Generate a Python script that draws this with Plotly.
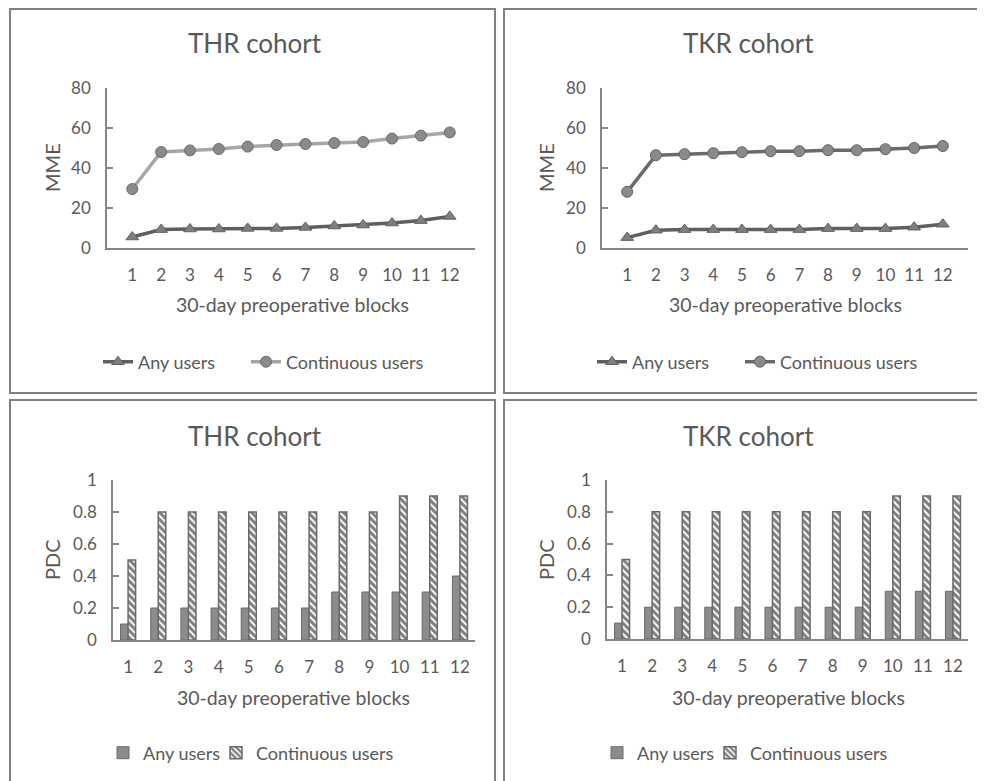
import plotly.graph_objects as go

W, H = 985, 781
OFF = 8  # page body margin offset

blocks = [str(i) for i in range(1, 13)]

thr_mme_any = [5.5, 9.2, 9.5, 9.5, 9.8, 9.8, 10.3, 11.0, 11.5, 12.5, 13.7, 15.8]
thr_mme_cont = [29.5, 48.0, 48.8, 49.5, 50.7, 51.5, 52.0, 52.5, 53.0, 54.7, 56.2, 57.8]
tkr_mme_any = [5.2, 8.9, 9.2, 9.2, 9.2, 9.2, 9.2, 9.7, 9.7, 9.7, 10.4, 11.9]
tkr_mme_cont = [28.1, 46.4, 46.9, 47.4, 47.9, 48.4, 48.4, 48.9, 48.9, 49.4, 50.0, 51.0]

thr_pdc_any = [0.1, 0.2, 0.2, 0.2, 0.2, 0.2, 0.2, 0.3, 0.3, 0.3, 0.3, 0.4]
thr_pdc_cont = [0.5, 0.8, 0.8, 0.8, 0.8, 0.8, 0.8, 0.8, 0.8, 0.9, 0.9, 0.9]
tkr_pdc_any = [0.1, 0.2, 0.2, 0.2, 0.2, 0.2, 0.2, 0.2, 0.2, 0.3, 0.3, 0.3]
tkr_pdc_cont = [0.5, 0.8, 0.8, 0.8, 0.8, 0.8, 0.8, 0.8, 0.8, 0.9, 0.9, 0.9]

mme_ticks = [0, 20, 40, 60, 80]
pdc_ticks = [0, 0.2, 0.4, 0.6, 0.8, 1]
pdc_tick_text = ["0", "0.2", "0.4", "0.6", "0.8", "1"]

titles = ["THR cohort", "TKR cohort", "THR cohort", "TKR cohort"]
xtitle = "30-day preoperative blocks"

FONT = "Lato, 'Open Sans', sans-serif"
TXT = "#595959"
AX = "#868686"

def px(x):
    return (x - OFF) / W

def py(y):
    return 1 - (y - OFF) / H

fig = go.Figure()

any_line = dict(color="#5f5f5f", width=3.5)
any_marker = dict(symbol="triangle-up", size=11, color="#7f7f7f", line=dict(color="#5f5f5f", width=1))

fig.add_trace(go.Scatter(x=blocks, y=thr_mme_any, name="Any users", mode="lines+markers",
                         line=any_line, marker=any_marker, xaxis="x", yaxis="y", legend="legend"))
fig.add_trace(go.Scatter(x=blocks, y=thr_mme_cont, name="Continuous users", mode="lines+markers",
                         line=dict(color="#a6a6a6", width=3.5),
                         marker=dict(symbol="circle", size=11, color="#8a8a8a", line=dict(color="#6a6a6a", width=1)),
                         xaxis="x", yaxis="y", legend="legend2"))

fig.add_trace(go.Scatter(x=blocks, y=tkr_mme_any, name="Any users", mode="lines+markers",
                         line=any_line, marker=any_marker, xaxis="x2", yaxis="y2", legend="legend3"))
fig.add_trace(go.Scatter(x=blocks, y=tkr_mme_cont, name="Continuous users", mode="lines+markers",
                         line=dict(color="#6a6a6a", width=3.5),
                         marker=dict(symbol="circle", size=11, color="#8a8a8a", line=dict(color="#606060", width=1)),
                         xaxis="x2", yaxis="y2", legend="legend4"))

bar_any = dict(color="#8c8c8c", line=dict(color="#6a6a6a", width=1))
bar_cont = dict(color="white", line=dict(color="#6a6a6a", width=1.5),
                pattern=dict(shape="\\", fgcolor="#000000", bgcolor="white", size=5, solidity=0.6))

fig.add_trace(go.Bar(x=blocks, y=thr_pdc_any, name="Any users", marker=bar_any,
                     xaxis="x3", yaxis="y3", legend="legend5"))
fig.add_trace(go.Bar(x=blocks, y=thr_pdc_cont, name="Continuous users", marker=bar_cont,
                     xaxis="x3", yaxis="y3", legend="legend6"))
fig.add_trace(go.Bar(x=blocks, y=tkr_pdc_any, name="Any users", marker=bar_any,
                     xaxis="x4", yaxis="y4", legend="legend7"))
fig.add_trace(go.Bar(x=blocks, y=tkr_pdc_cont, name="Continuous users", marker=bar_cont,
                     xaxis="x4", yaxis="y4", legend="legend8"))

tickfont = dict(family=FONT, size=17, color=TXT)

def xaxis(domain, anchor):
    return dict(domain=domain, anchor=anchor, type="category", showgrid=False, showline=True,
                linecolor=AX, linewidth=1.5, ticks="", tickfont=tickfont, ticklabelstandoff=11,
                zeroline=False, fixedrange=True, automargin=False)

def yaxis(domain, anchor, rng, tv, tt=None):
    d = dict(domain=domain, anchor=anchor, range=rng, tickvals=tv, showgrid=False, showline=True,
             linecolor=AX, linewidth=1.5, ticks="inside", ticklen=6, tickcolor=AX, tickwidth=1.5,
             tickfont=tickfont, ticklabelstandoff=11, zeroline=False, fixedrange=True, automargin=False)
    if tt is not None:
        d["ticktext"] = tt
    return d

top_y = [py(248), py(88)]
bot_y = [py(640), py(480)]

fig.update_layout(
    width=W, height=H,
    margin=dict(l=0, r=0, t=0, b=0, pad=0, autoexpand=False),
    paper_bgcolor="white", plot_bgcolor="white",
    font=dict(family=FONT, color=TXT),
    barmode="group", bargap=0.5, bargroupgap=0,
    xaxis=xaxis([px(107), px(475)], "y"),
    yaxis=yaxis(top_y, "x", [0, 80], mme_ticks),
    xaxis2=xaxis([px(602), px(968)], "y2"),
    yaxis2=yaxis(top_y, "x2", [0, 80], mme_ticks),
    xaxis3=xaxis([px(113), px(475)], "y3"),
    yaxis3=yaxis(bot_y, "x3", [0, 1], pdc_ticks, pdc_tick_text),
    xaxis4=xaxis([px(607), px(968)], "y4"),
    yaxis4=yaxis([py(639), py(480)], "x4", [0, 1], pdc_ticks, pdc_tick_text),
    showlegend=True,
)

leg_line = dict(orientation="h", xanchor="left", yanchor="middle",
                font=dict(family=FONT, size=18, color=TXT), bgcolor="rgba(0,0,0,0)",
                itemclick=False, itemdoubleclick=False)
leg_bar = dict(orientation="h", xanchor="left", yanchor="middle",
               font=dict(family=FONT, size=18, color=TXT), bgcolor="rgba(0,0,0,0)",
               itemclick=False, itemdoubleclick=False, itemwidth=30)
fig.update_layout(
    legend=dict(x=px(98), y=py(362), **leg_line),
    legend2=dict(x=px(246), y=py(362), **leg_line),
    legend3=dict(x=px(592), y=py(362), **leg_line),
    legend4=dict(x=px(740), y=py(362), **leg_line),
    legend5=dict(x=px(103), y=py(753), **leg_bar),
    legend6=dict(x=px(216), y=py(753), **leg_bar),
    legend7=dict(x=px(597), y=py(753), **leg_bar),
    legend8=dict(x=px(710), y=py(753), **leg_bar),
)

frames = [(10, 9, 495, 393), (504, 9, 1000, 393), (10, 400, 495, 800), (504, 400, 1000, 800)]
for (x0, y0, x1, y1) in frames:
    fig.add_shape(type="rect", xref="paper", yref="paper", x0=px(x0), x1=px(x1), y0=py(y1), y1=py(y0),
                  line=dict(color="#7f7f7f", width=2), fillcolor="rgba(0,0,0,0)", layer="below")

title_pos = [(255, 43), (748, 43), (255, 436), (748, 436)]
for t, (x, y) in zip(titles, title_pos):
    fig.add_annotation(text=t, x=px(x), y=py(y), xref="paper", yref="paper", showarrow=False,
                       xanchor="center", yanchor="middle", font=dict(family=FONT, size=26, color=TXT))

xt_pos = [(292, 305), (785, 305), (293, 697), (788, 697)]
for (x, y) in xt_pos:
    fig.add_annotation(text=xtitle, x=px(x), y=py(y), xref="paper", yref="paper", showarrow=False,
                       xanchor="center", yanchor="middle", font=dict(family=FONT, size=19.5, color=TXT))

yt = [("MME", 52, 168), ("MME", 546, 168), ("PDC", 52, 560), ("PDC", 546, 560)]
for (t, x, y) in yt:
    fig.add_annotation(text=t, x=px(x), y=py(y), xref="paper", yref="paper", showarrow=False,
                       textangle=-90, xanchor="center", yanchor="middle",
                       font=dict(family=FONT, size=20, color=TXT))

fig.write_html("out.html")
